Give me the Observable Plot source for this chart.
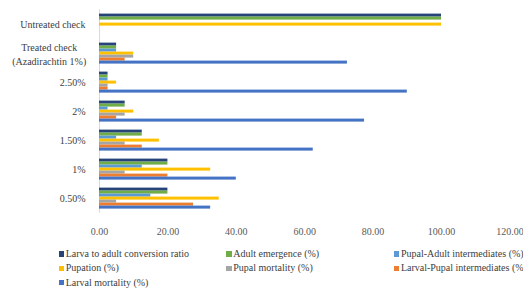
<!DOCTYPE html>
<html>
<head>
<meta charset="utf-8">
<script src="https://cdn.jsdelivr.net/npm/d3@7"></script>
<script src="https://cdn.jsdelivr.net/npm/@observablehq/plot@0.6"></script>
<style>
  html, body { margin: 0; padding: 0; background: #fff; }
  #wrap { position: relative; width: 523px; height: 288px; overflow: hidden; font-family: "Liberation Serif", serif; }
  #legend { position: absolute; left: 58.7px; top: 247px; display: grid; grid-template-columns: 167.6px 167.6px 167.6px; grid-auto-rows: 14.3px; font-size: 10px; color: #404040; white-space: nowrap; }
  #legend .item { display: flex; align-items: center; line-height: 14.3px; }
  #legend .sw { width: 5.5px; height: 5.5px; margin-right: 1.5px; flex: none; }
</style>
</head>
<body>
<div id="wrap"><div id="chart"></div><div id="legend"></div></div>
<script>
const categories = ["Untreated check", "Treated check\n(Azadirachtin 1%)", "2.50%", "2%", "1.50%", "1%", "0.50%"];
const series = [
  "Larva to adult conversion ratio",
  "Adult emergence (%)",
  "Pupal-Adult intermediates (%)",
  "Pupation (%)",
  "Pupal mortality (%)",
  "Larval-Pupal intermediates (%)",
  "Larval mortality (%)"
];
const colors = ["#264478", "#70AD47", "#5B9BD5", "#FFC000", "#A5A5A5", "#ED7D31", "#4472C4"];
const larvaAdult      = [100, 5, 2.5, 7.5, 12.5, 20, 20];
const adultEmergence  = [100, 5, 2.5, 7.5, 12.5, 20, 20];
const pupalAdult      = [0, 5, 2.5, 2.5, 5, 12.5, 15];
const pupation        = [100, 10, 5, 10, 17.5, 32.5, 35];
const pupalMortality  = [0, 10, 2.5, 7.5, 7.5, 7.5, 5];
const larvalPupal     = [0, 7.5, 2.5, 5, 12.5, 20, 27.5];
const larvalMortality = [0, 72.5, 90, 77.5, 62.5, 40, 32.5];
const xTicks = [0, 20, 40, 60, 80, 100, 120];

const seriesValues = [larvaAdult, adultEmergence, pupalAdult, pupation, pupalMortality, larvalPupal, larvalMortality];
const data = [];
categories.forEach((c, i) => {
  series.forEach((s, j) => {
    data.push({category: c, series: s, value: seriesValues[j][i]});
  });
});

const treated = categories[1];
const chart = Plot.plot({
  width: 523,
  height: 240,
  marginLeft: 99,
  marginRight: 13.6,
  marginTop: 8.4,
  marginBottom: 27.4,
  style: {fontFamily: "Liberation Serif, serif", fontSize: "10px", color: "#595959", background: "#fff"},
  x: {domain: [0, 120], axis: null},
  fy: {domain: categories, paddingInner: 0.25, paddingOuter: 0.125, axis: null},
  y: {domain: series, padding: 0, axis: null},
  color: {domain: series, range: colors},
  marks: [
    Plot.ruleX([0], {stroke: "#d9d9d9", strokeWidth: 1, insetTop: -3.7, insetBottom: -3.7}),
    Plot.barX(data, {x: "value", y: "series", fy: "category", fill: "series", inset: 0}),
    Plot.axisX({ticks: xTicks, tickFormat: d3.format(".2f"), anchor: "bottom", tickSize: 0, tickPadding: 18, fill: "#595959", label: null}),
    Plot.axisFy({ticks: categories.filter(c => c !== treated), anchor: "left", tickSize: 0, tickPadding: 14, textAnchor: "end", fill: "#404040", label: null}),
    Plot.axisFy({ticks: [treated], anchor: "left", tickSize: 0, tickPadding: 14, textAnchor: "middle", dx: -36.3, fill: "#404040", label: null, lineHeight: 1.35})
  ]
});
document.getElementById("chart").appendChild(chart);

const legend = document.getElementById("legend");
series.forEach((s, j) => {
  const item = document.createElement("div");
  item.className = "item";
  const sw = document.createElement("span");
  sw.className = "sw";
  sw.style.background = colors[j];
  const t = document.createElement("span");
  t.textContent = s;
  item.appendChild(sw);
  item.appendChild(t);
  legend.appendChild(item);
});
</script>
</body>
</html>
